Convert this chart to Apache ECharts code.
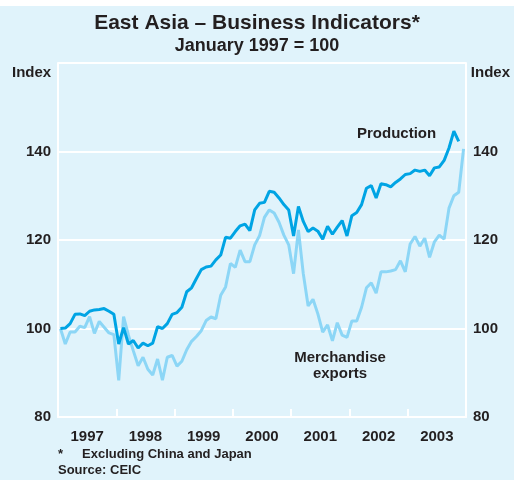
<!DOCTYPE html>
<html>
<head>
<meta charset="utf-8">
<script src="https://cdn.jsdelivr.net/npm/echarts@6/dist/echarts.min.js"></script>
<style>
html,body{margin:0;padding:0;background:#ffffff;}
#chart{width:514px;height:480px;}
</style>
</head>
<body>
<div id="chart"></div>
<script>
// Year categories (x-axis labels)
var years = ['1997','1998','1999','2000','2001','2002','2003'];
// Y tick values
var yTicks = [80, 100, 120, 140, 160];
// Monthly values from Jan 1997
var production = [
  100.0,100.1,101.1,103.2,103.3,102.9,103.9,104.2,104.3,104.5,103.9,103.2,
  96.5,100.2,96.5,97.3,95.6,96.7,96.1,96.7,100.4,100.0,101.1,103.2,
  103.6,104.8,108.3,109.2,111.3,113.3,113.9,114.1,115.5,116.6,120.6,120.4,
  121.9,123.2,123.6,122.1,126.8,128.3,128.5,131.0,130.8,129.5,128.0,126.8,
  120.9,127.6,124.2,121.9,122.7,122.0,120.2,123.1,121.3,122.9,124.4,120.9,
  125.5,126.2,128.0,131.7,132.3,129.5,132.7,132.5,132.0,133.0,133.8,134.8,
  135.0,135.8,135.5,135.8,134.5,136.3,136.5,138.0,140.8,144.6,142.3
];
var exportsIdx = [
  100.0,96.5,99.2,99.2,100.5,100.2,102.7,98.9,101.6,100.3,99.0,98.6,
  88.3,102.7,98.5,95.0,91.6,93.5,90.8,89.5,93.1,88.3,93.5,93.9,
  91.5,92.6,95.2,97.1,98.2,99.5,101.8,102.6,102.2,107.5,109.4,114.7,
  113.8,117.7,115.1,115.1,118.9,121.0,125.1,126.8,126.1,124.0,121.1,118.9,
  112.4,122.3,112.4,105.1,106.6,103.3,99.2,100.8,97.2,101.3,98.5,98.0,
  101.7,101.7,104.8,109.2,110.3,108.0,112.8,112.8,113.0,113.3,115.3,112.8,
  119.1,120.8,118.6,120.4,116.1,119.6,121.1,120.2,127.2,130.0,130.8,140.6
];

function toPairs(arr){ return arr.map(function(v,i){ return [i+0.5, v]; }); }

var FONT = 'Liberation Sans, Arial, Helvetica, sans-serif';
var TXT = '#231f20';
var chart = echarts.init(document.getElementById('chart'), null, {renderer:'canvas'});
chart.setOption({
  backgroundColor: '#e0f3fb',
  animation: false,
  title: [
    {text: 'East Asia – Business Indicators*', left: 'center', top: 11, padding: 0,
     textStyle: {fontFamily: FONT, fontSize: 21, fontWeight: 'bold', color: TXT, lineHeight: 24}},
    {text: 'January 1997 = 100', left: 'center', top: 36, padding: 0,
     textStyle: {fontFamily: FONT, fontSize: 18, fontWeight: 'bold', color: TXT, lineHeight: 20}}
  ],
  grid: {left: 58, right: 48, top: 63, bottom: 63},
  xAxis: [
    {type: 'value', min: 0, max: years.length * 12, show: false},
    {type: 'category', data: years, boundaryGap: true, position: 'bottom',
     axisLine: {show: true, lineStyle: {color: '#ffffff', width: 2}},
     axisTick: {show: true, inside: true, length: 8, lineStyle: {color: '#ffffff', width: 2}},
     axisLabel: {fontFamily: FONT, fontSize: 15, fontWeight: 'bold', color: TXT, margin: 12},
     splitLine: {show: false}}
  ],
  yAxis: [
    {type: 'value', min: yTicks[0], max: yTicks[yTicks.length-1], interval: 20, position: 'left',
     axisLine: {show: true, lineStyle: {color: '#ffffff', width: 2}},
     axisTick: {show: false},
     axisLabel: {fontFamily: FONT, fontSize: 15, fontWeight: 'bold', color: TXT, margin: 7,
       formatter: function(v){ return v === 160 ? '' : String(v); }},
     splitLine: {show: true, lineStyle: {color: '#ffffff', width: 2}}},
    {type: 'value', min: yTicks[0], max: yTicks[yTicks.length-1], interval: 20, position: 'right',
     axisLine: {show: true, lineStyle: {color: '#ffffff', width: 2}},
     axisTick: {show: false},
     axisLabel: {fontFamily: FONT, fontSize: 15, fontWeight: 'bold', color: TXT, margin: 7,
       formatter: function(v){ return v === 160 ? '' : String(v); }},
     splitLine: {show: false}}
  ],
  series: [
    {name: 'Merchandise exports', type: 'line', xAxisIndex: 0, yAxisIndex: 0,
     data: toPairs(exportsIdx), showSymbol: false, symbol: 'none',
     lineStyle: {color: '#8cd6f6', width: 3}, z: 3},
    {name: 'Production', type: 'line', xAxisIndex: 0, yAxisIndex: 0,
     data: toPairs(production), showSymbol: false, symbol: 'none',
     lineStyle: {color: '#00a4e4', width: 3}, z: 4}
  ],
  graphic: [
    {type: 'rect', left: 0, top: 0, shape: {width: 514, height: 6}, style: {fill: '#ffffff'}, silent: true},
    {type: 'text', left: 12, top: 65, style: {text: 'Index', fontFamily: FONT, fontSize: 15, fontWeight: 'bold', fill: TXT}},
    {type: 'text', right: 4, top: 65, style: {text: 'Index', fontFamily: FONT, fontSize: 15, fontWeight: 'bold', fill: TXT}},
    {type: 'text', left: 357, top: 126, style: {text: 'Production', fontFamily: FONT, fontSize: 15, fontWeight: 'bold', fill: TXT}},
    {type: 'text', x: 340, y: 350, style: {text: 'Merchandise', align: 'center', verticalAlign: 'top', fontFamily: FONT, fontSize: 15, fontWeight: 'bold', fill: TXT}},
    {type: 'text', x: 340, y: 366, style: {text: 'exports', align: 'center', verticalAlign: 'top', fontFamily: FONT, fontSize: 15, fontWeight: 'bold', fill: TXT}},
    {type: 'text', left: 58, top: 448, style: {text: '*', fontFamily: FONT, fontSize: 13, fontWeight: 'bold', fill: TXT}},
    {type: 'text', left: 82, top: 448, style: {text: 'Excluding China and Japan', fontFamily: FONT, fontSize: 13, fontWeight: 'bold', fill: TXT}},
    {type: 'text', left: 58, top: 464, style: {text: 'Source: CEIC', fontFamily: FONT, fontSize: 13, fontWeight: 'bold', fill: TXT}}
  ]
});
</script>
</body>
</html>
